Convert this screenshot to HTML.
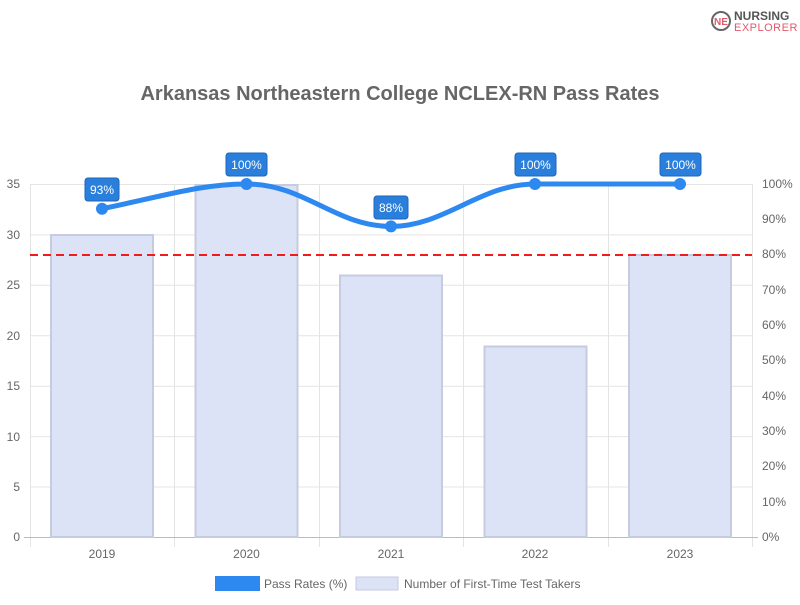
<!DOCTYPE html>
<html><head><style>
body{margin:0;width:800px;height:600px;background:#fff;overflow:hidden;font-family:"Liberation Sans",sans-serif}
</style></head><body>
<svg width="800" height="600" xmlns="http://www.w3.org/2000/svg" font-family="Liberation Sans, sans-serif">
<g stroke="#e4e4e4" stroke-width="1">
<line x1="30" y1="184.5" x2="752" y2="184.5"/><line x1="30" y1="234.9" x2="752" y2="234.9"/><line x1="30" y1="285.3" x2="752" y2="285.3"/><line x1="30" y1="335.8" x2="752" y2="335.8"/><line x1="30" y1="386.2" x2="752" y2="386.2"/><line x1="30" y1="436.6" x2="752" y2="436.6"/><line x1="30" y1="487" x2="752" y2="487"/>
<line x1="30.5" y1="184" x2="30.5" y2="547"/><line x1="174.5" y1="184" x2="174.5" y2="547"/><line x1="319.5" y1="184" x2="319.5" y2="547"/><line x1="463.5" y1="184" x2="463.5" y2="547"/><line x1="608.5" y1="184" x2="608.5" y2="547"/><line x1="752.5" y1="184" x2="752.5" y2="547"/>
</g>
<line x1="24" y1="537.5" x2="758" y2="537.5" stroke="#bbb"/>
<g fill="#dce3f6" stroke="#c5cbe0" stroke-width="2">
<rect x="51" y="235" width="102" height="302"/>
<rect x="195.5" y="185" width="102" height="352"/>
<rect x="340" y="275.5" width="102" height="261.5"/>
<rect x="484.5" y="346.5" width="102" height="190.5"/>
<rect x="629" y="255" width="102" height="282"/>
</g>
<line x1="30" y1="255" x2="752" y2="255" stroke="#f01c1c" stroke-width="2" stroke-dasharray="8,5"/>
<path d="M102,208.7 C160,197 200,184 246.5,184 C305,184 335,226.4 391,226.4 C445,226.4 480,184 535,184 L680,184" fill="none" stroke="#2d89ef" stroke-width="5"/>
<g fill="#2d89ef"><circle cx="102" cy="208.7" r="6"/><circle cx="246.5" cy="184" r="6"/><circle cx="391" cy="226.4" r="6"/><circle cx="535" cy="184" r="6"/><circle cx="680" cy="184" r="6"/></g>
<g fill="#2a7fdc" stroke="#1d64b8" stroke-width="1">
<rect x="85" y="178" width="34" height="23" rx="3"/>
<rect x="226" y="153" width="41" height="23" rx="3"/>
<rect x="374" y="196" width="34" height="23" rx="3"/>
<rect x="515" y="153" width="41" height="23" rx="3"/>
<rect x="660" y="153" width="41" height="23" rx="3"/>
</g>
<g fill="#fff" font-size="12" text-anchor="middle">
<text x="102" y="194">93%</text><text x="246.5" y="169">100%</text><text x="391" y="212">88%</text><text x="535.5" y="169">100%</text><text x="680.5" y="169">100%</text>
</g>
<g fill="#666" font-size="12" text-anchor="end">
<text x="20" y="188">35</text><text x="20" y="239">30</text><text x="20" y="289">25</text><text x="20" y="340">20</text><text x="20" y="390">15</text><text x="20" y="441">10</text><text x="20" y="491">5</text><text x="20" y="541">0</text>
</g>
<g fill="#666" font-size="12">
<text x="762" y="188">100%</text><text x="762" y="223">90%</text><text x="762" y="258">80%</text><text x="762" y="294">70%</text><text x="762" y="329">60%</text><text x="762" y="364">50%</text><text x="762" y="400">40%</text><text x="762" y="435">30%</text><text x="762" y="470">20%</text><text x="762" y="506">10%</text><text x="762" y="541">0%</text>
</g>
<g fill="#666" font-size="12" text-anchor="middle">
<text x="102" y="558">2019</text><text x="246.5" y="558">2020</text><text x="391" y="558">2021</text><text x="535" y="558">2022</text><text x="680" y="558">2023</text>
</g>
<text x="400" y="100" text-anchor="middle" font-size="20" font-weight="bold" fill="#666">Arkansas Northeastern College NCLEX-RN Pass Rates</text>
<rect x="215" y="576" width="45" height="15" fill="#2d89ef"/>
<text x="264" y="588" font-size="12" fill="#666">Pass Rates (%)</text>
<rect x="356" y="577" width="42" height="13" fill="#dce3f6" stroke="#c5cbe0"/>
<text x="404" y="588" font-size="12" fill="#666">Number of First-Time Test Takers</text>
<circle cx="721" cy="21" r="9" fill="none" stroke="#666" stroke-width="2"/>
<text x="721" y="25" font-size="10" font-weight="bold" fill="#e05a6a" text-anchor="middle">NE</text>
<text x="734" y="20" font-size="12" font-weight="bold" fill="#555">NURSING</text>
<text x="734" y="31" font-size="11" fill="#e05a6a" letter-spacing="0.5">EXPLORER</text>
</svg>
</body></html>
